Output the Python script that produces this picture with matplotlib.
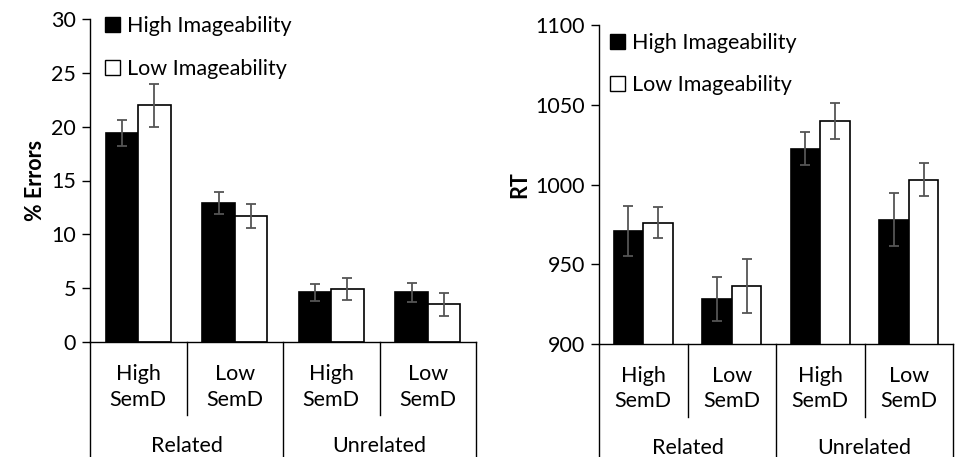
import matplotlib.pyplot as plt
from matplotlib.patches import Patch
from matplotlib.lines import Line2D
import numpy as np

plt.rcParams['font.family'] = ['Lato', 'DejaVu Sans']

categories = ['High\nSemD', 'Low\nSemD', 'High\nSemD', 'Low\nSemD']
groups = ['Related', 'Unrelated']
series = ['High Imageability', 'Low Imageability']

# % errors
err_high = [19.4, 12.9, 4.6, 4.6]
err_high_se = [1.2, 1.0, 0.8, 0.9]
err_low = [22.0, 11.7, 4.9, 3.5]
err_low_se = [2.0, 1.1, 1.0, 1.05]

# reaction times
rt_high = [971, 928, 1022.5, 978]
rt_high_se = [15.7, 13.7, 10.5, 16.5]
rt_low = [976, 936, 1040, 1003]
rt_low_se = [9.8, 17.0, 11.5, 10.4]

FS = 15.5
W, H = 9.57, 4.57
fig = plt.figure(figsize=(W, H), dpi=100)


def panel(rect, hi, hi_se, lo, lo_se, ylim, yticks, ylabel, leg_anchor):
    ax = fig.add_axes(rect)
    x = np.arange(len(categories))
    bw = 0.335
    ekw = dict(ecolor='#555555', elinewidth=1.3, capsize=3.5, capthick=1.3)
    ax.bar(x - bw / 2, hi, bw, color='black', edgecolor='black', linewidth=1.2,
           yerr=hi_se, error_kw=ekw, zorder=2)
    ax.bar(x + bw / 2, lo, bw, color='white', edgecolor='black', linewidth=1.2,
           yerr=lo_se, error_kw=ekw, zorder=2)
    ax.set_xlim(-0.5, len(categories) - 0.5)
    ax.set_ylim(*ylim)
    ax.set_yticks(yticks)
    ax.tick_params(axis='y', labelsize=FS, length=6, width=1, direction='out', pad=4)
    ax.set_xticks([])
    for s in ['top', 'right']:
        ax.spines[s].set_visible(False)
    for s in ['left', 'bottom']:
        ax.spines[s].set_linewidth(1)
    ax.set_ylabel(ylabel, fontsize=FS, fontweight='bold', labelpad=4)

    # category axis below plot
    hpx = rect[3] * H * 100
    frac = lambda px: -px / hpx
    tr = ax.get_xaxis_transform()
    for i, c in enumerate(categories):
        ax.text(x[i], frac(45), c, transform=tr, ha='center', va='center',
                fontsize=FS, linespacing=1.32)
    for j, g in enumerate(groups):
        ax.text(2 * j + 0.5, frac(104), g, transform=tr, ha='center',
                va='center', fontsize=FS)
    for b in [0.5, 2.5]:
        ax.add_line(Line2D([b, b], [0, frac(73)], transform=tr, color='black',
                           lw=1, clip_on=False))
    for b in [-0.5, 1.5, 3.5]:
        ax.add_line(Line2D([b, b], [0, frac(130)], transform=tr, color='black',
                           lw=1, clip_on=False))

    handles = [Patch(facecolor='black', edgecolor='black'),
               Patch(facecolor='white', edgecolor='black')]
    ax.legend(handles, series, loc='upper left', bbox_to_anchor=leg_anchor,
              frameon=False, fontsize=FS, handlelength=0.7, handleheight=0.7,
              handletextpad=0.3, labelspacing=1.05, borderpad=0, borderaxespad=0)
    return ax


panel([90 / 957, 1 - 342 / 457, 386 / 957, 323 / 457],
      err_high, err_high_se, err_low, err_low_se,
      (0, 30), range(0, 31, 5), '% Errors', (0.039, 1.008))
panel([599 / 957, 1 - 343.7 / 457, 354 / 957, 318.4 / 457],
      rt_high, rt_high_se, rt_low, rt_low_se,
      (900, 1100), range(900, 1101, 50), 'RT', (0.031, 0.977))

fig.savefig('out.png', dpi=100)
